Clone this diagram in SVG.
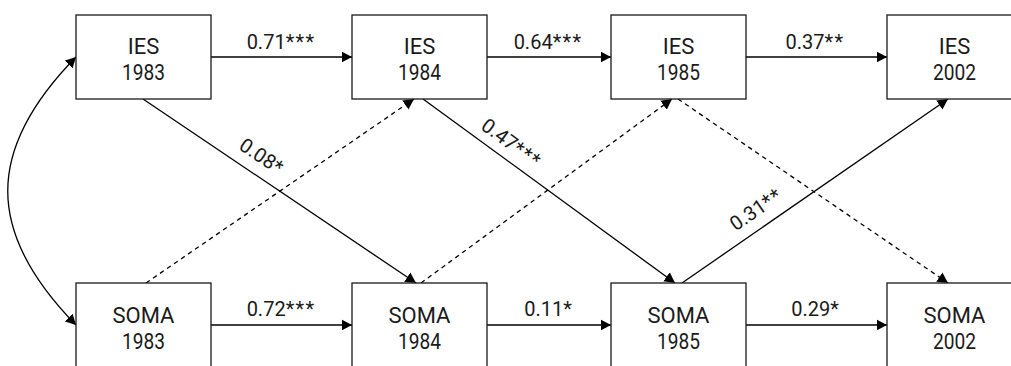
<svg xmlns="http://www.w3.org/2000/svg" width="1011" height="366" viewBox="0 0 1011 366">
<style>
.box{fill:#fff;stroke:#1a1a1a;stroke-width:1.3}
.t{font-family:Roboto,"Liberation Sans",sans-serif;font-size:20px;fill:#1a1a1a;text-anchor:middle}
.n{font-size:22px}
.s{letter-spacing:1.3px}
.e{fill:none;stroke:#000;stroke-width:1.3}
.d{stroke-dasharray:4.5 4}
</style>
<defs>
<marker id="ah" markerUnits="userSpaceOnUse" markerWidth="12" markerHeight="12" refX="10.5" refY="6" orient="auto-start-reverse">
<path d="M0,0.5 L10.5,6 L0,11.5 z" fill="#000"/>
</marker>
</defs>
<g id="connectors">
<path class="e" d="M76,57 C-15,150 -15,232 76,325" marker-start="url(#ah)" marker-end="url(#ah)"/>
<line class="e" x1="211" y1="57" x2="352" y2="57" marker-end="url(#ah)"/>
<line class="e" x1="487" y1="57" x2="611" y2="57" marker-end="url(#ah)"/>
<line class="e" x1="746" y1="57" x2="887" y2="57" marker-end="url(#ah)"/>
<line class="e" x1="211" y1="325" x2="352" y2="325" marker-end="url(#ah)"/>
<line class="e" x1="487" y1="325" x2="611" y2="325" marker-end="url(#ah)"/>
<line class="e" x1="746" y1="325" x2="887" y2="325" marker-end="url(#ah)"/>
<line class="e" x1="143" y1="99" x2="416" y2="283" marker-end="url(#ah)"/>
<line class="e d" x1="146" y1="283" x2="414" y2="99" marker-end="url(#ah)"/>
<line class="e" x1="423" y1="99" x2="675" y2="283" marker-end="url(#ah)"/>
<line class="e d" x1="421" y1="283" x2="672" y2="99" marker-end="url(#ah)"/>
<line class="e" x1="682" y1="283" x2="948" y2="99" marker-end="url(#ah)"/>
<line class="e d" x1="678" y1="99" x2="948" y2="283" marker-end="url(#ah)"/>
<text class="t" x="281" y="48.5">0.71<tspan class="s">***</tspan></text>
<text class="t" x="548" y="48.5">0.64<tspan class="s">***</tspan></text>
<text class="t" x="815" y="48.5">0.37<tspan class="s">**</tspan></text>
<text class="t" x="281" y="316">0.72<tspan class="s">***</tspan></text>
<text class="t" x="548" y="316">0.11*</text>
<text class="t" x="815" y="316">0.29*</text>
<text class="t" transform="translate(257.6,161.8) rotate(34)">0.08*</text>
<text class="t" transform="translate(507.6,148.7) rotate(36.1)">0.47<tspan class="s">***</tspan></text>
<text class="t" transform="translate(760,214.8) rotate(-34.7)">0.31<tspan class="s">**</tspan></text>
</g>
<g id="ies1983"><rect class="box" x="76" y="15" width="135" height="84"/><text class="t n" x="143.5" y="53.5">IES</text><text class="t n" x="143.5" y="79.5" textLength="43" lengthAdjust="spacingAndGlyphs">1983</text></g>
<g id="ies1984"><rect class="box" x="352" y="15" width="135" height="84"/><text class="t n" x="419.5" y="53.5">IES</text><text class="t n" x="419.5" y="79.5" textLength="43" lengthAdjust="spacingAndGlyphs">1984</text></g>
<g id="ies1985"><rect class="box" x="611" y="15" width="135" height="84"/><text class="t n" x="678.5" y="53.5">IES</text><text class="t n" x="678.5" y="79.5" textLength="43" lengthAdjust="spacingAndGlyphs">1985</text></g>
<g id="ies2002"><rect class="box" x="887" y="15" width="135" height="84"/><text class="t n" x="954.5" y="53.5">IES</text><text class="t n" x="954.5" y="79.5" textLength="43" lengthAdjust="spacingAndGlyphs">2002</text></g>
<g id="soma1983"><rect class="box" x="76" y="283" width="135" height="84"/><text class="t n" x="143.5" y="322.5">SOMA</text><text class="t n" x="143.5" y="348.5" textLength="43" lengthAdjust="spacingAndGlyphs">1983</text></g>
<g id="soma1984"><rect class="box" x="352" y="283" width="135" height="84"/><text class="t n" x="419.5" y="322.5">SOMA</text><text class="t n" x="419.5" y="348.5" textLength="43" lengthAdjust="spacingAndGlyphs">1984</text></g>
<g id="soma1985"><rect class="box" x="611" y="283" width="135" height="84"/><text class="t n" x="678.5" y="322.5">SOMA</text><text class="t n" x="678.5" y="348.5" textLength="43" lengthAdjust="spacingAndGlyphs">1985</text></g>
<g id="soma2002"><rect class="box" x="887" y="283" width="135" height="84"/><text class="t n" x="954.5" y="322.5">SOMA</text><text class="t n" x="954.5" y="348.5" textLength="43" lengthAdjust="spacingAndGlyphs">2002</text></g>
</svg>
